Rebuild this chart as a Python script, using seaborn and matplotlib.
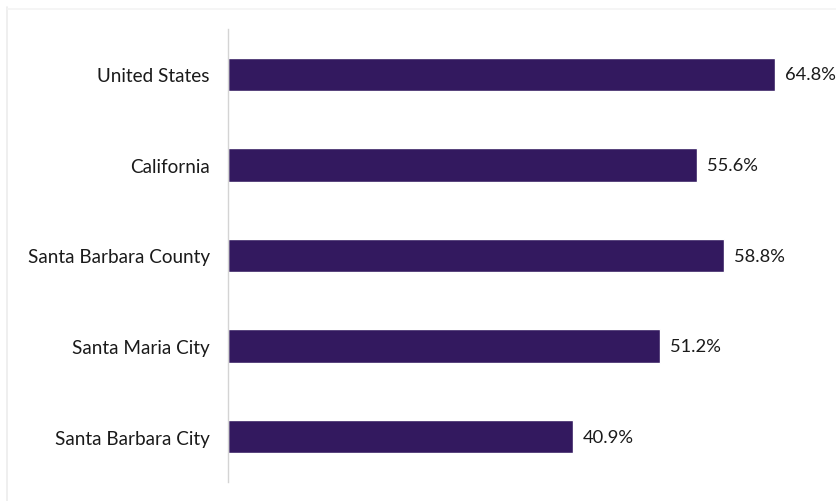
import matplotlib
matplotlib.use("Agg")
import matplotlib.pyplot as plt
from matplotlib.lines import Line2D
import seaborn as sns
import pandas as pd

# Share of population (percent) by geography
regions = ["United States", "California", "Santa Barbara County",
           "Santa Maria City", "Santa Barbara City"]
shares = [64.8, 55.6, 58.8, 51.2, 40.9]
value_labels = ["64.8%", "55.6%", "58.8%", "51.2%", "40.9%"]

bar_color = "#33195f"
text_color = "#1a1a1a"

sns.set_theme(style="white")
plt.rcParams["font.family"] = ["Lato", "DejaVu Sans"]

df = pd.DataFrame({"region": regions, "share": shares})

fig = plt.figure(figsize=(8.36, 5.02), dpi=100)
ax = fig.add_axes([228 / 836, 19 / 502, (819 - 228) / 836, (483 - 30) / 502])

sns.barplot(data=df, x="share", y="region", order=regions, color=bar_color,
            saturation=1, width=0.37, ax=ax)

for i, (v, lab) in enumerate(zip(shares, value_labels)):
    ax.text(v + 1.15, i, lab, va="center", ha="left", fontsize=13.2,
            color=text_color)

ax.set_xlim(0, 70)
ax.set_ylim(4.5, -0.5)
ax.set_xlabel("")
ax.set_ylabel("")
ax.set_xticks([])
ax.tick_params(axis="y", length=0, pad=13, labelsize=13.6, labelcolor=text_color)
for side in ["top", "right", "bottom"]:
    ax.spines[side].set_visible(False)
ax.spines["left"].set_color("#d4d4d4")
ax.spines["left"].set_linewidth(1.0)

# faint frame edges along the top and left of the canvas
fig.add_artist(Line2D([7 / 836, 7 / 836], [0, 1 - 8 / 502],
                      transform=fig.transFigure, color="#ececec", lw=1.2))
fig.add_artist(Line2D([7 / 836, 1], [1 - 10 / 502, 1 - 10 / 502],
                      transform=fig.transFigure, color="#f3f3f3", lw=1.2))

fig.savefig("out.png", dpi=100, facecolor="white")
